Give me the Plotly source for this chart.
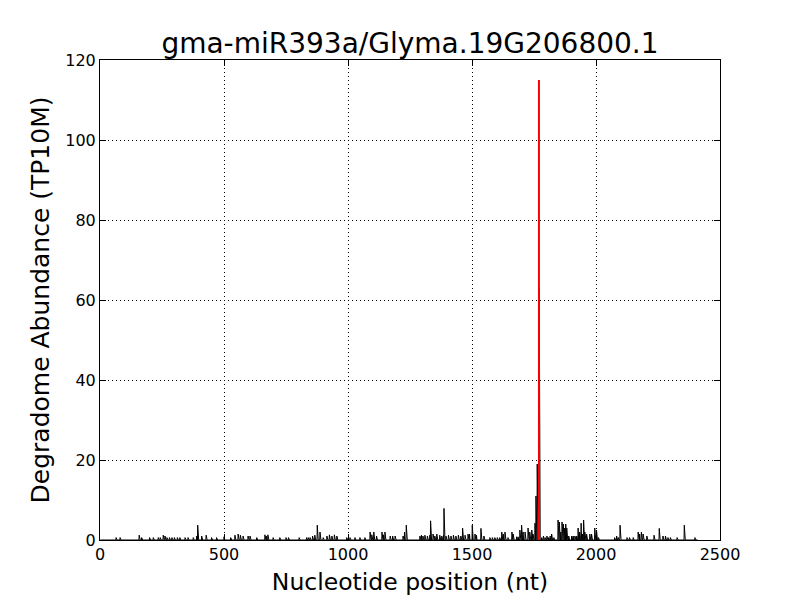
import numpy as np
import plotly.graph_objects as go

title = "gma-miR393a/Glyma.19G206800.1"
transcript_length = 2410

# nonzero degradome positions (nt) and abundances (TP10M)
positions = [65, 81, 158, 168, 200, 215, 235, 243, 255, 262, 270, 280, 290, 300, 312, 322,
             343, 355, 376, 390, 394, 410, 428, 450, 470, 500, 527, 544, 557, 566, 577, 597,
             605, 632, 665, 671, 677, 698, 725, 750, 760, 803, 833, 840, 847, 857, 866, 876,
             887, 900, 915, 925, 935, 945, 955, 995, 1008, 1028, 1048, 1068, 1089, 1096, 1104,
             1115, 1137, 1143, 1149, 1170, 1180, 1190, 1222, 1228, 1235, 1290, 1296, 1302,
             1310, 1320, 1330, 1333, 1343, 1350, 1358, 1370, 1378, 1385, 1387, 1395, 1405,
             1415, 1425, 1435, 1445, 1455, 1462, 1472, 1484, 1490, 1501, 1512, 1518, 1536,
             1548, 1572, 1582, 1592, 1602, 1612, 1620, 1626, 1633, 1645, 1661, 1666, 1680,
             1686, 1693, 1700, 1706, 1714, 1726, 1733, 1741, 1746, 1754, 1758, 1763, 1771,
             1781, 1788, 1795, 1802, 1809, 1815, 1821, 1830, 1847, 1852, 1858, 1863, 1868,
             1873, 1878, 1882, 1890, 1902, 1908, 1915, 1922, 1928, 1934, 1940, 1946, 1950,
             1955, 1962, 1975, 1982, 1995, 2002, 2010, 2075, 2083, 2090, 2097, 2125, 2135,
             2150, 2170, 2176, 2183, 2190, 2205, 2234, 2255, 2270, 2280, 2290, 2300, 2327,
             2356, 2399]
abundance = [0.6, 0.6, 1.2, 0.6, 0.6, 0.6, 0.6, 0.6, 1.2, 1.0, 0.6, 0.6, 0.6, 0.6, 0.6, 0.6,
             0.6, 0.6, 0.6, 1.0, 3.7, 1.0, 1.2, 0.6, 0.6, 0.8, 0.6, 1.2, 1.5, 1.2, 1.0, 1.0,
             1.0, 0.6, 1.3, 1.0, 1.3, 0.6, 0.6, 0.6, 0.6, 0.6, 0.6, 0.6, 0.6, 1.0, 1.2, 3.7,
             2.0, 0.6, 1.0, 1.3, 1.0, 1.3, 1.0, 0.6, 0.6, 0.6, 0.6, 0.6, 2.0, 1.3, 2.0,
             1.0, 2.0, 1.3, 2.0, 1.0, 1.0, 1.0, 1.0, 2.0, 3.7, 1.0, 1.2, 1.0,
             1.2, 1.0, 1.2, 4.8, 1.5, 1.0, 1.5, 1.2, 1.0, 1.2, 7.9, 1.0, 1.2,
             1.0, 1.2, 1.0, 1.2, 1.0, 3.0, 1.2, 1.5, 1.5, 3.7, 1.5, 1.2, 2.9,
             1.0, 0.6, 0.6, 0.6, 0.6, 0.6, 2.0, 1.5, 2.0, 0.6, 2.0, 1.5, 0.8,
             0.8, 2.5, 3.7, 2.0, 2.0, 3.0, 2.0, 2.5, 1.5, 4.2, 11.0, 19.0, 63.0,
             0.6, 1.0, 0.6, 1.0, 0.6, 1.0, 1.5, 0.6, 5.0, 4.5, 2.0, 4.5, 4.0,
             3.0, 4.0, 3.0, 1.0, 1.0, 1.0, 1.0, 1.0, 3.0, 2.0, 4.2, 1.5, 5.0,
             2.0, 1.5, 1.5, 1.5, 3.0, 2.5, 0.6, 0.6, 1.0, 0.6, 3.7, 0.6, 0.6,
             0.6, 2.0, 1.5, 2.0, 1.5, 1.0, 1.2, 2.9, 1.0, 1.0, 0.6, 0.6, 0.6,
             3.7, 0.6]
cleavage_site = [1770]
cleavage_abundance = [115.0]

nt = np.arange(1, transcript_length + 1)
profile = np.zeros(transcript_length)
for p, a in zip(positions, abundance):
    profile[p - 1] = a

fig = go.Figure()
fig.add_trace(go.Scatter(x=nt, y=profile, mode="lines",
                         line=dict(color="black", width=1), hoverinfo="skip",
                         showlegend=False))
for c, a in zip(cleavage_site, cleavage_abundance):
    fig.add_trace(go.Scatter(x=[c, c], y=[0, a], mode="lines",
                             line=dict(color="red", width=2), showlegend=False))

axis_common = dict(showline=True, linecolor="black", linewidth=1, mirror="ticks",
                   ticks="inside", ticklen=6, tickcolor="black",
                   showgrid=True, gridcolor="black", griddash="1px,3px", gridwidth=1,
                   zeroline=False, tickfont=dict(family="DejaVu Sans", size=16, color="black"))

fig.update_layout(
    width=800, height=600,
    margin=dict(l=92, r=88, t=52, b=68),
    paper_bgcolor="white", plot_bgcolor="white",
    title=dict(text=title, x=(410 - 8) / 800, xanchor="center", y=1 - 35 / 600, yanchor="middle",
               font=dict(family="DejaVu Sans", size=28, color="black")),
    xaxis=dict(range=[0, 2500], dtick=500, tickformat="d",
               title=dict(text="Nucleotide position (nt)", standoff=10,
                          font=dict(family="DejaVu Sans", size=23.5, color="black")),
               **axis_common),
    yaxis=dict(range=[0, 120], dtick=20,
               title=dict(text="Degradome Abundance (TP10M)", standoff=8,
                          font=dict(family="DejaVu Sans", size=25, color="black")),
               **axis_common),
)

fig.write_html("out.html")
